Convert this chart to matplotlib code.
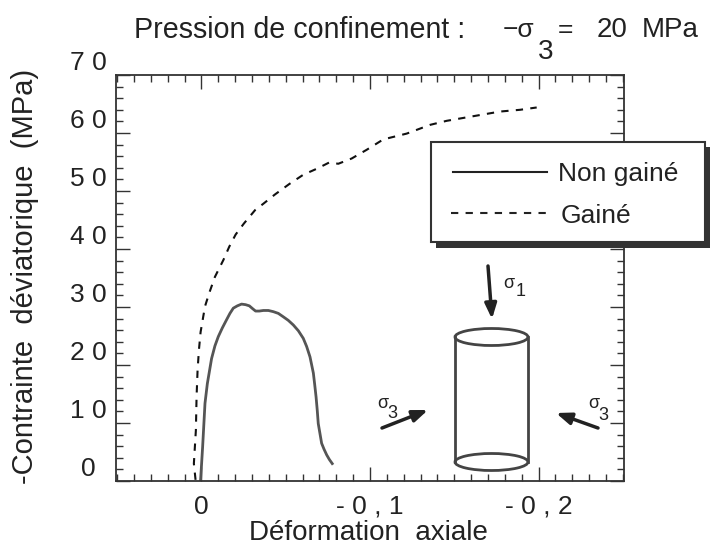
from matplotlib import pyplot as plt
from matplotlib.patches import Ellipse, Rectangle
from matplotlib.ticker import MultipleLocator
from matplotlib.transforms import ScaledTranslation

plt.rcParams['font.family'] = ['Liberation Sans', 'DejaVu Sans']

# courbe sans gaine
nonGaineX = [0.0005, -0.0007, -0.0021, -0.0035, -0.0060, -0.0080, -0.0100, -0.0124, -0.0149, -0.0169, -0.0189,
             -0.0213, -0.0238, -0.0262, -0.0284, -0.0304, -0.0321, -0.0343, -0.0367, -0.0397, -0.0426, -0.0456,
             -0.0486, -0.0515, -0.0545, -0.0575, -0.0604, -0.0624, -0.0644, -0.0654, -0.0664, -0.0672, -0.0680,
             -0.0687, -0.0693, -0.0703, -0.0713, -0.0727, -0.0743, -0.0759, -0.0776]
nonGaineY = [0.2, 5.9, 13.4, 16.8, 21.1, 23.3, 24.9, 26.4, 27.8, 28.9, 29.8,
             30.2, 30.5, 30.4, 30.2, 29.7, 29.3, 29.3, 29.4, 29.4, 29.2, 28.9,
             28.3, 27.7, 26.9, 25.9, 24.6, 23.2, 21.4, 20.0, 18.6, 16.6, 14.5,
             12.2, 9.9, 8.2, 6.5, 5.5, 4.5, 3.7, 3.0]

# courbe avec gaine
gaineX = [0.0035, 0.0045, 0.0033, 0.0029, 0.0023, 0.0015, 0.0005, -0.0021, -0.0046, -0.0080, -0.0130, -0.0165,
          -0.0203, -0.0252, -0.0318, -0.0367, -0.0436, -0.0521, -0.0604, -0.0689, -0.0757, -0.0812, -0.0891,
          -0.0980, -0.1079, -0.1218, -0.1356, -0.1455, -0.1554, -0.1653, -0.1772, -0.1890, -0.1989]
gaineY = [0.2, 3.0, 8.8, 14.5, 19.1, 22.6, 25.7, 30.1, 32.4, 35.2, 38.1, 40.4,
          42.5, 44.4, 46.7, 47.8, 49.4, 51.2, 52.8, 53.9, 54.9, 54.7, 55.6,
          57.1, 58.9, 59.9, 61.4, 62.1, 62.6, 63.1, 63.7, 64.0, 64.4]

xTicks = [0, -0.1, -0.2]
xTickLabels = ['0', '- 0 , 1', '- 0 , 2']
yTicks = [0, 10, 20, 30, 40, 50, 60, 70]
yTickLabels = ['0', '1 0', '2 0', '3 0', '4 0', '5 0', '6 0', '7 0']

FONT = 19
W, H = 712, 548
AXIS = '#333333'

fig = plt.figure(figsize=(W / 100, H / 100), dpi=100)
ax = fig.add_axes([116 / W, 1 - 481 / H, (624 - 116) / W, (481 - 75) / H])

ax.plot(nonGaineX, nonGaineY, color='#555555', lw=2, solid_joinstyle='round')
ax.plot(gaineX, gaineY, color='#111111', lw=1.5, linestyle=(0, (3.5, 3.5)))

ax.set_xlim(0.0507, -0.2507)
ax.set_ylim(0, 70)
ax.set_xticks(xTicks)
ax.set_xticklabels(xTickLabels, fontsize=FONT, color='#222222')
ax.set_yticks(yTicks)
ax.set_yticklabels(yTickLabels, fontsize=FONT, color='#222222')
ax.xaxis.set_minor_locator(MultipleLocator(0.01))
ax.yaxis.set_minor_locator(MultipleLocator(2))
ax.tick_params(which='major', direction='in', length=10, width=1, color=AXIS, top=True, right=True)
ax.tick_params(which='minor', direction='in', length=5, width=1, color=AXIS, top=True, right=True)
ax.tick_params(axis='x', which='major', pad=10)
ax.tick_params(axis='y', which='major', pad=20)
for spine in ax.spines.values():
    spine.set_color(AXIS)
    spine.set_linewidth(1.3)

# les etiquettes de y sont centrees et decalees vers le haut dans l'original
shift = ScaledTranslation(0, 15 / 100, fig.dpi_scale_trans)
for label in ax.get_yticklabels():
    label.set_horizontalalignment('center')
    label.set_transform(label.get_transform() + shift)

# calque en pixels pour le titre, la legende et le schema
over = fig.add_axes([0, 0, 1, 1], zorder=5)
over.set_xlim(0, W)
over.set_ylim(H, 0)
over.axis('off')


def putText(x, y, s, size=FONT, **kwargs):
    over.text(x, y, s, fontsize=size, color='#222222', va='center', **kwargs)


# titre
putText(134, 30, 'Pression de confinement :', size=20.6)
putText(503, 30, '−σ')
putText(538, 52, '3', size=20)
putText(558, 30, '=')
putText(597, 30, '20', size=20)
putText(642, 30, 'MPa', size=20)

# axes
putText(368, 533, 'Déformation  axiale', size=20, ha='center')
putText(25, 276, '-Contrainte  déviatorique  (MPa)', size=21, rotation=90, ha='center')

# legende
over.add_patch(Rectangle((436, 147), 274, 101, fc='#333333', ec='none'))
over.add_patch(Rectangle((431, 142), 274, 100, fc='white', ec='#333333', lw=1.5))
over.plot([453, 547], [172, 172], color='#222222', lw=1.5)
over.plot([451, 546], [213, 213], color='#222222', lw=1.5, linestyle=(0, (3.5, 3.5)))
putText(558, 174, 'Non gainé')
putText(561, 216, 'Gainé')

# eprouvette
CYL = '#444444'
over.plot([455, 455], [337, 462], color=CYL, lw=2)
over.plot([528, 528], [337, 462], color=CYL, lw=2)
over.add_patch(Ellipse((491.5, 337), 73, 17, fc='none', ec=CYL, lw=2))
over.add_patch(Ellipse((491.5, 462), 73, 17, fc='none', ec=CYL, lw=2))


def arrow(start, end):
    over.annotate('', xy=end, xytext=start,
                  arrowprops=dict(arrowstyle='-|>,head_width=0.35,head_length=0.9',
                                  color='#222222', lw=2.5, shrinkA=0, shrinkB=0))


arrow((488, 266), (492, 319))
arrow((382, 428), (428, 410))
arrow((598, 428), (556, 413))

putText(503, 284, 'σ', size=13)
putText(516, 291, '1', size=13)
putText(377, 403, 'σ', size=13)
putText(387, 413, '3', size=13)
putText(588, 404, 'σ', size=13)
putText(598, 416, '3', size=13)

fig.savefig('out.png', dpi=100)
